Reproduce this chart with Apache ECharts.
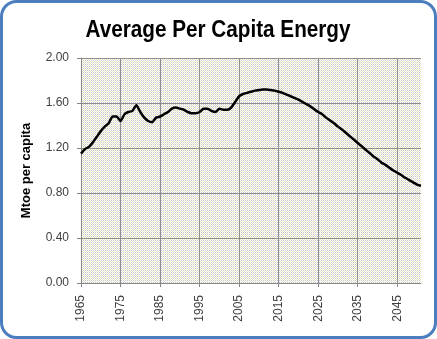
<!DOCTYPE html>
<html>
<head>
<meta charset="utf-8">
<script src="https://cdn.jsdelivr.net/npm/echarts@6/dist/echarts.min.js"></script>
<style>html,body{margin:0;padding:0;background:#fff;}#c{width:437px;height:339px;}</style>
</head>
<body>
<div id="c"></div>
<script>
var years = [];
for (var y = 1965; y <= 2051; y++) years.push(String(y));
var perCapita = [
  1.15, 1.19, 1.21, 1.25, 1.30, 1.35, 1.39, 1.42, 1.48, 1.48,
  1.44, 1.50, 1.52, 1.53, 1.58, 1.52, 1.47, 1.44, 1.43, 1.47,
  1.48, 1.50, 1.52, 1.55, 1.56, 1.55, 1.54, 1.52, 1.51, 1.51,
  1.52, 1.55, 1.55, 1.53, 1.52, 1.55, 1.54, 1.54, 1.56, 1.61,
  1.66, 1.68, 1.69, 1.70, 1.71, 1.715, 1.72, 1.72, 1.715, 1.71,
  1.70, 1.69, 1.675, 1.66, 1.645, 1.63, 1.61, 1.59, 1.57, 1.545,
  1.52, 1.50, 1.47, 1.445, 1.42, 1.39, 1.365, 1.335, 1.305, 1.275,
  1.245, 1.215, 1.185, 1.155, 1.125, 1.10, 1.07, 1.05, 1.025, 1.00,
  0.98, 0.96, 0.935, 0.915, 0.895, 0.875, 0.865
];
var yTicks = [0, 0.4, 0.8, 1.2, 1.6, 2.0];
var titleText = 'Average Per Capita Energy';
var yAxisName = 'Mtoe per capita';

// dithered plot-area fill like the original
var pat = document.createElement('canvas');
pat.width = 2; pat.height = 2;
var pc = pat.getContext('2d');
pc.fillStyle = '#ffffff'; pc.fillRect(0, 0, 2, 2);
pc.fillStyle = '#C6C6CE'; pc.fillRect(1, 0, 1, 1);
pc.fillStyle = '#EEE8BE'; pc.fillRect(0, 1, 1, 1);

var chart = echarts.init(document.getElementById('c'), null, {renderer: 'canvas'});
chart.setOption({
  backgroundColor: '#ffffff',
  animation: false,
  graphic: [{
    type: 'rect', silent: true, z: 100,
    shape: {x: 1.5, y: 1.5, width: 434, height: 336, r: 15},
    style: {fill: null, stroke: '#4A7EBE', lineWidth: 3}
  }, {
    type: 'text', silent: true, z: 100,
    x: 218, y: 31, scaleX: 0.9, originX: 0, originY: 0,
    style: {text: titleText, x: 0, y: 0, textAlign: 'center', textVerticalAlign: 'middle',
      fontFamily: 'Liberation Sans', fontWeight: 'bold', fontSize: 23, fill: '#000'}
  }],
  grid: {left: 81, right: 16, top: 58, bottom: 56, show: true, backgroundColor: {image: pat, repeat: 'repeat'}, borderWidth: 0},
  xAxis: {
    type: 'category', data: years, boundaryGap: false,
    axisLine: {lineStyle: {color: '#868686', width: 1}},
    axisTick: {interval: 9, length: 4, lineStyle: {color: '#868686'}},
    axisLabel: {interval: 9, rotate: 90, margin: 12, fontFamily: 'Liberation Sans', fontSize: 12, color: '#404040'},
    splitLine: {show: true, interval: 9, lineStyle: {color: '#8f8f8f', width: 1}}
  },
  yAxis: {
    type: 'value', min: yTicks[0], max: yTicks[yTicks.length - 1], interval: 0.4,
    name: yAxisName, nameLocation: 'middle', nameGap: 48,
    nameTextStyle: {fontFamily: 'Liberation Sans', fontWeight: 'bold', fontSize: 13, color: '#000'},
    axisLine: {show: true, lineStyle: {color: '#868686'}},
    axisTick: {show: true, length: 4, lineStyle: {color: '#868686'}},
    axisLabel: {formatter: function (v) { return v.toFixed(2); }, margin: 12, fontFamily: 'Liberation Sans', fontSize: 12, color: '#404040'},
    splitLine: {show: true, lineStyle: {color: '#8f8f8f', width: 1}}
  },
  series: [{
    type: 'line', data: perCapita, symbol: 'none', smooth: 0.2,
    lineStyle: {color: '#000', width: 2.5}
  }]
});
</script>
</body>
</html>
